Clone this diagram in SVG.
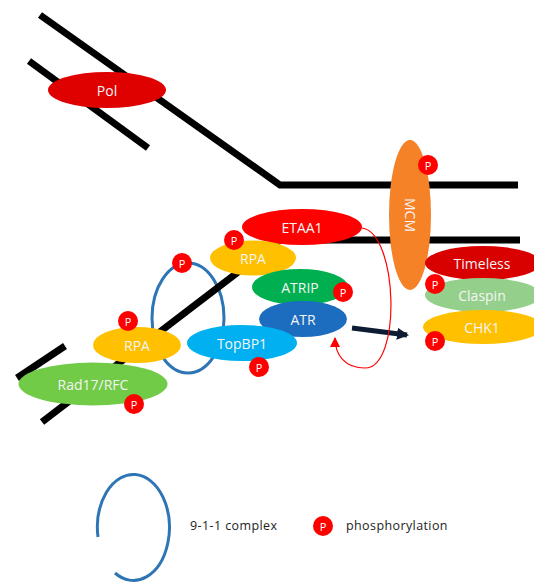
<svg xmlns="http://www.w3.org/2000/svg" width="534" height="584" viewBox="0 0 534 584">
<defs>
<style>
.dna{stroke:#000;stroke-width:7;fill:none;stroke-linecap:butt;stroke-linejoin:miter}
.lbl{font-family:"Open Sans","Noto Sans",sans-serif;font-size:14px;fill:#F4F4F4;text-anchor:middle;dominant-baseline:central}
.pc{fill:#FF0000}
.pt{font-family:"Open Sans","Noto Sans",sans-serif;font-size:11px;fill:#fff;text-anchor:middle;dominant-baseline:central}
.leg{font-family:"Open Sans","Noto Sans",sans-serif;font-size:12.5px;fill:#222;letter-spacing:0.4px}
.ring{fill:none;stroke:#2E75B6;stroke-width:3}
</style>
<marker id="redHead" markerUnits="userSpaceOnUse" markerWidth="10" markerHeight="10" viewBox="0 0 10 10" refX="9" refY="5" orient="auto">
<path d="M0,0 L10,5 L0,10 z" fill="#FF0000"/>
</marker>
<marker id="blkHead" markerUnits="userSpaceOnUse" markerWidth="12" markerHeight="12" viewBox="0 0 12 12" refX="10" refY="6" orient="auto">
<path d="M0,0 L12,6 L0,12 z" fill="#0D1B33"/>
</marker>
</defs>
<rect width="534" height="584" fill="#fff"/>

<g id="ring911">
<ellipse class="ring" cx="188" cy="318" rx="36" ry="55"/>
</g>

<g id="dna">
<polyline class="dna" points="40,15 280,185 518,185"/>
<line class="dna" x1="29" y1="61" x2="148" y2="148"/>
<polyline class="dna" points="42,422 280,240 520,240"/>
<line class="dna" x1="17" y1="378" x2="65" y2="346"/>
</g>

<g id="pol">
<ellipse cx="107" cy="90" rx="59" ry="18" fill="#DF0000"/>
<text class="lbl" x="107" y="90">Pol</text>
</g>

<g id="mcm">
<ellipse cx="410" cy="215" rx="21" ry="75" fill="#F58227"/>
<text class="lbl" x="410" y="215" transform="rotate(90 410 215)">MCM</text>
</g>

<g id="etaa1">
<ellipse cx="302" cy="227" rx="60" ry="18" fill="#FF0000"/>
<text class="lbl" x="302" y="227">ETAA1</text>
</g>

<g id="rpa-upper">
<ellipse cx="253" cy="258" rx="43" ry="17.5" fill="#FFC000"/>
<text class="lbl" x="253" y="258">RPA</text>
</g>

<g id="atrip">
<ellipse cx="300" cy="287" rx="48" ry="18" fill="#00B050"/>
<text class="lbl" x="300" y="287">ATRIP</text>
</g>

<g id="atr">
<ellipse cx="303" cy="319" rx="44" ry="18" fill="#1C6CC0"/>
<text class="lbl" x="303" y="319">ATR</text>
</g>

<g id="topbp1">
<ellipse cx="242" cy="343" rx="55" ry="18" fill="#00B0F0"/>
<text class="lbl" x="242" y="343">TopBP1</text>
</g>

<g id="rpa-lower">
<ellipse cx="137" cy="345" rx="44" ry="18" fill="#FFC000"/>
<text class="lbl" x="137" y="345">RPA</text>
</g>

<g id="rad17">
<ellipse cx="93" cy="384" rx="74.5" ry="21.5" fill="#71CB47"/>
<text class="lbl" x="93" y="384">Rad17/RFC</text>
</g>

<g id="timeless">
<ellipse cx="483" cy="263" rx="58" ry="17" fill="#D90000"/>
<text class="lbl" x="482" y="263">Timeless</text>
</g>

<g id="claspin">
<ellipse cx="483" cy="295" rx="58" ry="17" fill="#94CF8B"/>
<text class="lbl" x="482" y="295">Claspin</text>
</g>

<g id="chk1">
<ellipse cx="483" cy="327" rx="60" ry="17" fill="#FFC000"/>
<text class="lbl" x="482" y="327">CHK1</text>
</g>

<g id="connectors">
<line x1="352" y1="328" x2="407" y2="335" stroke="#0D1B33" stroke-width="5" marker-end="url(#blkHead)"/>
<path d="M362,228 C398,233 402,368 365,368 C345,368 335,355 335,338" fill="none" stroke="#FF0000" stroke-width="1.2" marker-end="url(#redHead)"/>
</g>

<g id="phospho">
<g><circle class="pc" cx="128" cy="321" r="10"/><text class="pt" x="128" y="321">P</text></g>
<g><circle class="pc" cx="182" cy="263" r="10"/><text class="pt" x="182" y="263">P</text></g>
<g><circle class="pc" cx="134" cy="404" r="10"/><text class="pt" x="134" y="404">P</text></g>
<g><circle class="pc" cx="234" cy="240" r="10"/><text class="pt" x="234" y="240">P</text></g>
<g><circle class="pc" cx="343" cy="292" r="10"/><text class="pt" x="343" y="292">P</text></g>
<g><circle class="pc" cx="259" cy="367" r="10"/><text class="pt" x="259" y="367">P</text></g>
<g><circle class="pc" cx="428" cy="165" r="10"/><text class="pt" x="428" y="165">P</text></g>
<g><circle class="pc" cx="435" cy="284" r="10"/><text class="pt" x="435" y="284">P</text></g>
<g><circle class="pc" cx="435" cy="341" r="10"/><text class="pt" x="435" y="341">P</text></g>
</g>

<g id="legend">
<path d="M98,537 A36,53 0 1 1 115,573" class="ring"/>
<text class="leg" x="190" y="530">9-1-1 complex</text>
<circle class="pc" cx="323" cy="526" r="10"/>
<text class="pt" x="323" y="526">P</text>
<text class="leg" x="346" y="530">phosphorylation</text>
</g>
</svg>
